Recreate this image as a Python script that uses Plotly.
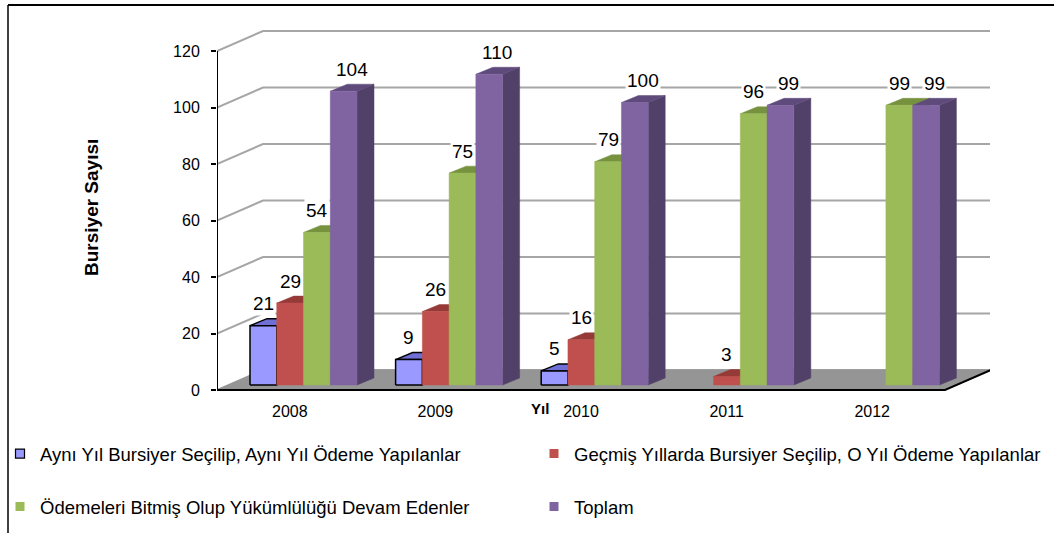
import plotly.graph_objects as go

# ---------------- data ----------------
years = ["2008", "2009", "2010", "2011", "2012"]
ayni_yil = [21, 9, 5, None, None]
gecmis_yillarda = [29, 26, 16, 3, None]
odemeleri_biten = [54, 75, 79, 96, 99]
toplam = [104, 110, 100, 99, 99]
y_ticks = [0, 20, 40, 60, 80, 100, 120]

series_names = [
    "Aynı Yıl Bursiyer Seçilip, Aynı Yıl Ödeme Yapılanlar",
    "Geçmiş Yıllarda Bursiyer Seçilip, O Yıl Ödeme Yapılanlar",
    "Ödemeleri Bitmiş Olup Yükümlülüğü Devam Edenler",
    "Toplam",
]
series_values = [ayni_yil, gecmis_yillarda, odemeleri_biten, toplam]

# ---------------- styles ----------------
front_cols = ["#9999FF", "#C0504D", "#9BBB59", "#8064A2"]
top_cols = ["#6F6FD6", "#963A38", "#77923F", "#5E4A7B"]
side_cols = ["#5C5CB8", "#8A3432", "#6E873A", "#514068"]
outline = ["black", None, None, None]
label_dx = [0, 0, 0, 8]
legend_pos = [(0, 454), (534, 454), (0, 507), (534, 507)]   # px (left, middle)

W, H = 1054, 533
L, R, T, B = 217, 64, 25, 133
PW, PH = W - L - R, H - T - B
PXU = 2.825                      # px per value unit
Y0PIX = 390                      # pixel row of value 0 (front)
ymax = (Y0PIX - T) / PXU
ymin = (Y0PIX - (H - B)) / PXU

FW = 728                         # front floor width (x units = px)
FDX, FDY = 46, 20 / PXU          # floor depth offset
SLOT = FW / len(years)
GROUP_OFF = 33
BW = 26.75
BASE = 5 / PXU
BDX, BDY = 17, 7 / PXU

FONT = "Liberation Sans, Arial"


def px_x(p):
    return (p - L) / PW


def px_y(p):
    return (H - B - p) / PH


fig = go.Figure()

# back wall gridlines
for v in y_ticks:
    fig.add_trace(go.Scatter(
        x=[0, FDX, PW], y=[v, v + FDY, v + FDY], mode="lines",
        line=dict(color="#A6A6A6", width=2), hoverinfo="skip", showlegend=False))

# floor
fig.add_trace(go.Scatter(
    x=[0, FW, FW + FDX, FDX, 0], y=[0, 0, FDY, FDY, 0], mode="lines",
    fill="toself", fillcolor="#959595", line=dict(color="#959595", width=1),
    hoverinfo="skip", showlegend=False))
fig.add_trace(go.Scatter(
    x=[0, FW, FW + FDX], y=[0, 0, FDY], mode="lines",
    line=dict(color="black", width=2), hoverinfo="skip", showlegend=False))

# bars (side, top, front faces)
for s, vals in enumerate(series_values):
    for i, v in enumerate(vals):
        if v is None:
            continue
        x0 = i * SLOT + GROUP_OFF + s * BW
        x1 = x0 + BW
        y0 = BASE
        y1 = BASE + v
        ln = dict(color=outline[s], width=1.5) if outline[s] else None
        fig.add_trace(go.Scatter(
            x=[x1, x1 + BDX, x1 + BDX, x1, x1], y=[y0, y0 + BDY, y1 + BDY, y1, y0],
            mode="lines", fill="toself", fillcolor=side_cols[s],
            line=dict(color=side_cols[s], width=0.5), hoverinfo="skip", showlegend=False))
        fig.add_trace(go.Scatter(
            x=[x0, x1, x1 + BDX, x0 + BDX, x0], y=[y1, y1, y1 + BDY, y1 + BDY, y1],
            mode="lines", fill="toself", fillcolor=top_cols[s],
            line=ln or dict(color=top_cols[s], width=0.5),
            hoverinfo="skip", showlegend=False))
        fig.add_trace(go.Scatter(
            x=[x0, x1, x1, x0, x0], y=[y0, y0, y1, y1, y0],
            mode="lines", fill="toself", fillcolor=front_cols[s],
            line=ln or dict(color=front_cols[s], width=0.5),
            name=series_names[s], text=[f"{years[i]}: {v}"] * 5,
            hoverinfo="text", showlegend=False))
        fig.add_annotation(
            x=(x0 + x1) / 2 + label_dx[s], y=y1, xref="x", yref="y",
            text=str(v), showarrow=False, yshift=22,
            font=dict(family=FONT, size=19, color="black"),
            bgcolor="white", borderpad=1)

# front y-axis line
fig.add_trace(go.Scatter(
    x=[0, 0], y=[0, y_ticks[-1]], mode="lines",
    line=dict(color="black", width=2), hoverinfo="skip", showlegend=False))

# legend entries (one legend per entry for exact placement)
legend_keys = ["legend", "legend2", "legend3", "legend4"]
for s, name in enumerate(series_names):
    fig.add_trace(go.Scatter(
        x=[None], y=[None], mode="markers", name=name,
        marker=dict(symbol="square", size=9, color=front_cols[s],
                    line=dict(color="black", width=1.2) if outline[s] else dict(width=0)),
        legend=legend_keys[s]))

legend_layout = {}
for s, key in enumerate(legend_keys):
    lx, ly = legend_pos[s]
    legend_layout[key] = dict(
        orientation="h", xref="container", yref="container", xanchor="left",
        yanchor="middle", x=lx / W, y=1 - ly / H, itemwidth=30,
        font=dict(family=FONT, size=18.5, color="black"),
        bgcolor="rgba(0,0,0,0)")

fig.update_layout(
    width=W, height=H,
    margin=dict(l=L, r=R, t=T, b=B, autoexpand=False),
    paper_bgcolor="white", plot_bgcolor="white",
    font=dict(family=FONT, color="black"),
    showlegend=True,
    xaxis=dict(range=[0, PW], showgrid=False, zeroline=False, showline=False,
               tickmode="array",
               tickvals=[(i + 0.5) * SLOT for i in range(len(years))],
               ticktext=years, ticks="", tickfont=dict(size=16), fixedrange=True),
    yaxis=dict(range=[ymin, ymax], showgrid=False, zeroline=False, showline=False,
               tickmode="array", tickvals=y_ticks, ticks="outside", ticklen=5,
               tickwidth=1.5, tickcolor="black", ticklabelstandoff=8,
               tickfont=dict(size=16), fixedrange=True),
    **legend_layout,
)

# axis titles
fig.add_annotation(x=px_x(91), y=px_y(208), xref="paper", yref="paper",
                   xanchor="center", yanchor="middle",
                   text="<b>Bursiyer Sayısı</b>", textangle=-90, showarrow=False,
                   font=dict(size=19, color="black"))
fig.add_annotation(x=px_x(540), y=px_y(408), xref="paper", yref="paper",
                   xanchor="center", yanchor="middle",
                   text="<b>Yıl</b>", showarrow=False, font=dict(size=15, color="black"))

# outer frame
fig.add_shape(type="line", xref="paper", yref="paper",
              x0=px_x(8), x1=px_x(W + 5), y0=px_y(5), y1=px_y(5),
              line=dict(color="black", width=2))
fig.add_shape(type="line", xref="paper", yref="paper",
              x0=px_x(8), x1=px_x(8), y0=px_y(5), y1=px_y(H + 5),
              line=dict(color="black", width=1.5))

fig.write_html("out.html", config={"displayModeBar": False},
               post_script="document.body.style.margin='0';document.body.style.overflow='hidden';")
